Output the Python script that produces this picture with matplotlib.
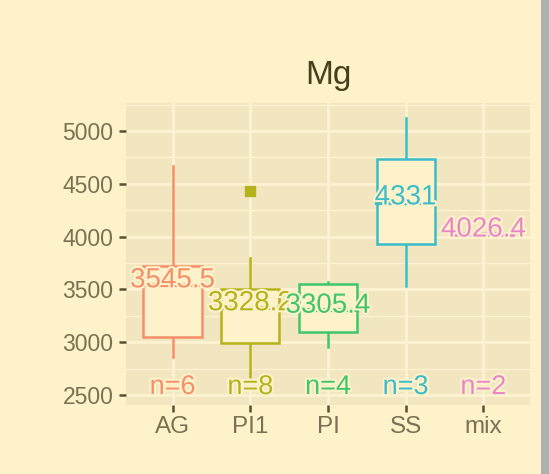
import numpy as np
import matplotlib
matplotlib.use("Agg")
import matplotlib.pyplot as plt
import matplotlib.patheffects as pe

plt.rcParams['font.family'] = ['Liberation Sans', 'DejaVu Sans']

groups = ["AG", "PI1", "PI", "SS", "mix"]
counts = [6, 8, 4, 3, 2]
whisker_low = [2860, 2673, 2952, 3532, 4015]
q1 = [3049, 2990, 3099, 3930, 4015]
median = [3545.5, 3328.2, 3305.4, 4318, 4026.4]
q3 = [3724, 3500, 3551, 4732, 4038]
whisker_high = [4669, 3794, 3573, 5126, 4038]
label_vals = [3545.5, 3328.2, 3305.4, 4331, 4026.4]
outlier_group = [1]
outlier_vals = [4429]

colors = ["#f68f69", "#b5b31c", "#3fc66c", "#3bbdc9", "#ea86c8"]
bg = "#fef2cb"
panel = "#f2e6c0"
grid = "#fdf3d2"
tick_col = "#7b7152"

fig = plt.figure(figsize=(5.49, 4.74), dpi=100, facecolor=bg)
ax = fig.add_axes([126/549, 1-405/474, 404/549, 302/474])
ax.set_facecolor(panel)

halo = [pe.withStroke(linewidth=3, foreground=bg)]
w = 0.75
for i, g in enumerate(groups):
    x = i + 1
    c = colors[i]
    ax.plot([x, x], [whisker_low[i], q1[i]], color=c, lw=1.8, zorder=3)
    ax.plot([x, x], [q3[i], whisker_high[i]], color=c, lw=1.8, zorder=3)
    ax.add_patch(plt.Rectangle((x - w/2, q1[i]), w, q3[i] - q1[i],
                               facecolor=bg, edgecolor=c, lw=1.8, zorder=3))
    ax.plot([x - w/2, x + w/2], [median[i], median[i]], color=c, lw=3, zorder=4)
    ax.text(x, label_vals[i] + 40, f"{label_vals[i]:g}", color=c, fontsize=20,
            ha="center", va="center", zorder=5, path_effects=halo)
    ax.text(x, 2575, f"n={counts[i]}", color=c, fontsize=19.5,
            ha="center", va="center", zorder=5, path_effects=halo)

for g, v in zip(outlier_group, outlier_vals):
    ax.plot(g + 1, v, marker="s", ms=6.5, color=colors[g], zorder=4, ls="none")

ax.set_xlim(0.4, 5.6)
ax.set_ylim(2405, 5265)
ax.set_xticks(range(1, 6))
ax.set_xticklabels(groups)
ax.set_yticks([2500, 3000, 3500, 4000, 4500, 5000])
ax.set_yticks([2750, 3250, 3750, 4250, 4750, 5250], minor=True)
ax.tick_params(axis="both", which="major", colors="#5a5030", length=5, width=1.8,
               labelsize=16.5, labelcolor=tick_col, pad=4)
ax.tick_params(axis="x", labelsize=17.5, pad=3)
ax.tick_params(which="minor", length=0)
ax.grid(True, which="major", color=grid, lw=2)
ax.grid(True, which="minor", color=grid, lw=1)
ax.set_axisbelow(True)
for s in ax.spines.values():
    s.set_visible(False)

ax.set_title("Mg", fontsize=24, color="#4a3d1c", pad=14)

fig.patches.append(plt.Rectangle((541/549, 0), 8/549, 1, transform=fig.transFigure,
                                 facecolor="#b0b0b0", edgecolor="none"))

fig.savefig("out.png", dpi=100, facecolor=bg)
